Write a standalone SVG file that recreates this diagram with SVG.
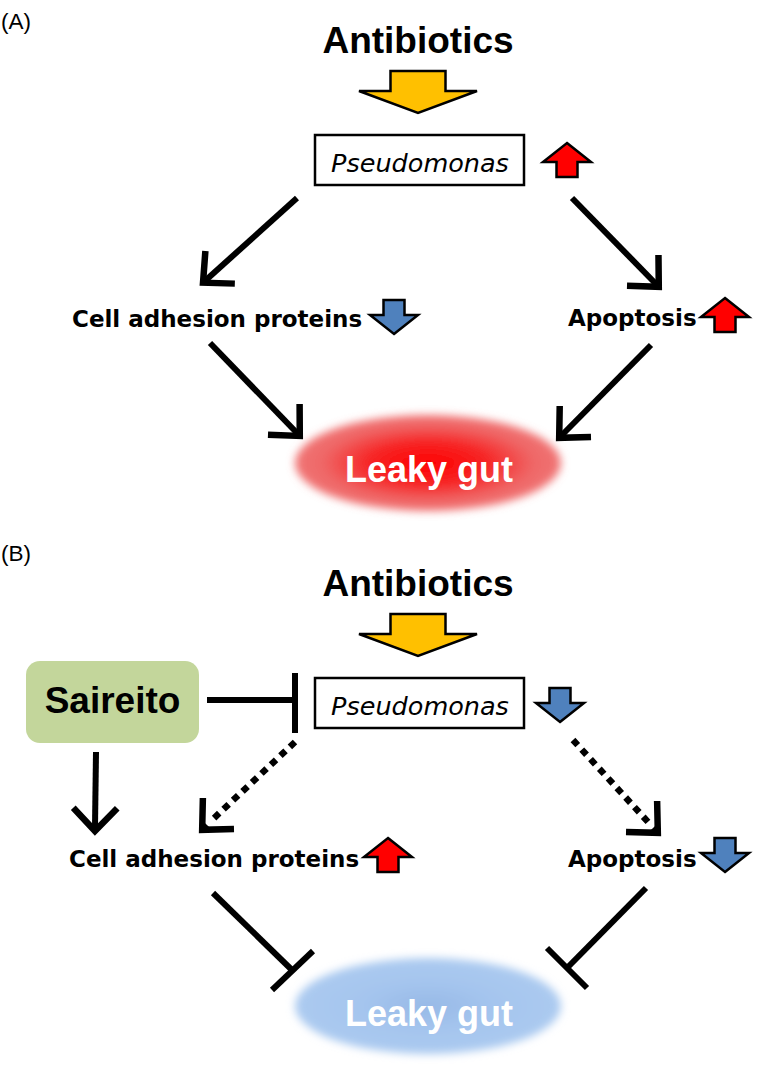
<svg xmlns="http://www.w3.org/2000/svg" xmlns:xlink="http://www.w3.org/1999/xlink" width="758" height="1072" viewBox="0 0 758 1072">
<style>
.panel{font-family:"Liberation Sans",Arial,sans-serif;font-size:22.5px;fill:#000}
.big{font-family:"Liberation Sans",Arial,sans-serif;font-weight:bold;font-size:37px;fill:#000;text-anchor:middle}
.lbl{font-family:"DejaVu Sans",Verdana,sans-serif;font-weight:bold;font-size:23px;fill:#000}
.bact{font-family:"DejaVu Sans",Verdana,sans-serif;font-style:oblique;font-size:25.5px;fill:#000;text-anchor:middle}
.leaky{font-family:"Liberation Sans",Arial,sans-serif;font-weight:bold;font-size:36px;fill:#fff;text-anchor:middle}
.box{fill:#fff;stroke:#000;stroke-width:2.5}
.conn{stroke:#000;stroke-width:6;fill:none}
.dot{stroke:#000;stroke-width:6.5;fill:none;stroke-dasharray:7 6}
.bar{stroke:#000;stroke-width:6;fill:none}
.up{fill:#ff0000;stroke:#000;stroke-width:2.5;stroke-linejoin:miter}
.down{fill:#4f81bd;stroke:#000;stroke-width:2.5;stroke-linejoin:miter}
.yel{fill:#ffc000;stroke:#000;stroke-width:2.5}
</style>
<defs>
<path id="blk" d="M0,0 L24,19 L10.5,19 L10.5,34 L-10.5,34 L-10.5,19 L-24,19 Z"/>
<path id="yarrow" d="M-27.5,-42 L27.5,-42 L27.5,-22 L59,-22 L0,0 L-59,-22 L-27.5,-22 Z"/>
<marker id="ah" markerUnits="userSpaceOnUse" viewBox="-34 -30 44 60" markerWidth="44" markerHeight="60" refX="-4" refY="0" orient="auto" overflow="visible">
<path d="M-23,-22 L0,0 L-23,22" fill="none" stroke="#000" stroke-width="6.5" stroke-linejoin="miter"/>
</marker>
<radialGradient id="gRed" cx="0.5" cy="0.5" r="0.5">
<stop offset="0" stop-color="#ff0000"/>
<stop offset="0.45" stop-color="#f62626"/>
<stop offset="0.8" stop-color="#ef6868"/>
<stop offset="1" stop-color="#f07474"/>
</radialGradient>
<radialGradient id="gBlue" cx="0.5" cy="0.5" r="0.5">
<stop offset="0" stop-color="#97b9e6"/>
<stop offset="0.5" stop-color="#a5c5ee"/>
<stop offset="1" stop-color="#abcaf0"/>
</radialGradient>
<filter id="soft" x="-20%" y="-30%" width="140%" height="160%">
<feGaussianBlur stdDeviation="4.5"/>
</filter>
</defs>

<text class="panel" x="1" y="29">(A)</text>
<text class="panel" x="1" y="561">(B)</text>

<!-- Panel A -->
<g id="a-antibiotics">
<text class="big" x="418" y="53">Antibiotics</text>
<use href="#yarrow" class="yel" transform="translate(418,113)"/>
</g>
<g id="a-pseudomonas">
<rect class="box" x="315" y="135" width="209" height="50"/>
<text class="bact" x="420" y="172">Pseudomonas</text>
<use href="#blk" class="up" transform="translate(567,143)"/>
</g>
<g id="a-cell-adhesion">
<text class="lbl" x="72" y="327">Cell adhesion proteins</text>
<use href="#blk" class="down" transform="translate(394,334) scale(1,-1)"/>
</g>
<g id="a-apoptosis">
<text class="lbl" x="568" y="326">Apoptosis</text>
<use href="#blk" class="up" transform="translate(725,298)"/>
</g>
<g id="a-leaky-gut">
<ellipse cx="428" cy="463" rx="133" ry="48" fill="url(#gRed)" filter="url(#soft)"/>
<text class="leaky" x="429" y="482">Leaky gut</text>
</g>

<!-- Panel B -->
<g id="b-antibiotics">
<text class="big" x="418" y="596">Antibiotics</text>
<use href="#yarrow" class="yel" transform="translate(418,656)"/>
</g>
<g id="b-saireito">
<rect x="26" y="661" width="173" height="82" rx="14" fill="#c3d69b"/>
<text class="big" x="112.5" y="713">Saireito</text>
</g>
<g id="b-pseudomonas">
<rect class="box" x="315" y="678" width="209" height="50"/>
<text class="bact" x="420" y="715">Pseudomonas</text>
<use href="#blk" class="down" transform="translate(560,722) scale(1,-1)"/>
</g>
<g id="b-cell-adhesion">
<text class="lbl" x="69" y="867">Cell adhesion proteins</text>
<use href="#blk" class="up" transform="translate(388,838)"/>
</g>
<g id="b-apoptosis">
<text class="lbl" x="568" y="867">Apoptosis</text>
<use href="#blk" class="down" transform="translate(725,872) scale(1,-1)"/>
</g>
<g id="b-leaky-gut">
<ellipse cx="428" cy="1006" rx="133" ry="48" fill="url(#gBlue)" filter="url(#soft)"/>
<text class="leaky" x="429" y="1026">Leaky gut</text>
</g>

<g id="connectors">
<!-- A -->
<line class="conn" x1="297" y1="198" x2="206" y2="280" marker-end="url(#ah)"/>
<line class="conn" x1="572" y1="198" x2="656" y2="284" marker-end="url(#ah)"/>
<line class="conn" x1="210" y1="343" x2="297" y2="433" marker-end="url(#ah)"/>
<line class="conn" x1="651" y1="345" x2="562" y2="435" marker-end="url(#ah)"/>
<!-- B -->
<line class="bar" x1="207" y1="700" x2="295" y2="700"/>
<line class="bar" x1="295" y1="673" x2="295" y2="733"/>
<line class="conn" x1="96" y1="752" x2="95" y2="827" marker-end="url(#ah)"/>
<line class="dot" x1="295" y1="742" x2="212" y2="820"/>
<line class="conn" x1="207" y1="825" x2="205" y2="827" marker-end="url(#ah)"/>
<line class="dot" x1="573" y1="740" x2="649" y2="823"/>
<line class="conn" x1="653" y1="828" x2="655" y2="830" marker-end="url(#ah)"/>
<line class="bar" x1="213" y1="893" x2="292" y2="970"/>
<line class="bar" x1="272" y1="990" x2="313" y2="951"/>
<line class="bar" x1="646" y1="888" x2="567" y2="968"/>
<line class="bar" x1="547" y1="948" x2="587" y2="988"/>
</g>
</svg>
